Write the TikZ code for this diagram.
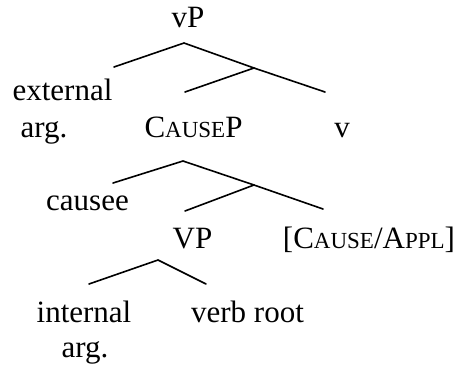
\documentclass[tikz,border=0pt]{standalone}
\usepackage{fontspec}
\setmainfont{Liberation Serif}
\newcommand\fakesc[1]{{\fontsize{23}{23}\selectfont #1}}
\begin{document}
\begin{tikzpicture}[x=1pt,y=-1pt,
  lbl/.style={anchor=base,inner sep=0pt,font=\fontsize{31}{37}\selectfont},
  branch/.style={line width=1.6pt,line cap=round}]
\useasboundingbox (0,0) rectangle (465,367);
% labels
\node[lbl] (vP) at (188,27) {vP};
\node[lbl] (ext1) at (62.5,100) {external};
\node[lbl] (ext2) at (44,137) {arg.};
\node[lbl] (causeP) at (193.5,137) {C\fakesc{AUSE}P};
\node[lbl] (v) at (342,137) {v};
\node[lbl] (causee) at (87.5,210) {causee};
\node[lbl] (VP) at (192.5,248) {VP};
\node[lbl] (head) at (369,248) {[C\fakesc{AUSE}/A\fakesc{PPL}]};
\node[lbl] (int1) at (84,322) {internal};
\node[lbl] (int2) at (85,357) {arg.};
\node[lbl] (root) at (247.5,322) {verb root};
% branch points
\coordinate (a1) at (184,43);
\coordinate (l1) at (114,67);
\coordinate (a2) at (254,68);
\coordinate (l2) at (185,92);
\coordinate (r2) at (325,92);
\coordinate (a3) at (183,161);
\coordinate (l3) at (113,183);
\coordinate (a4) at (254,185);
\coordinate (l4) at (185,211);
\coordinate (r4) at (323,209);
\coordinate (a5) at (158,260);
\coordinate (l5) at (89,284);
\coordinate (r5) at (206,284);
\draw[branch] (l1) -- (a1) -- (a2);
\draw[branch] (l2) -- (a2) -- (r2);
\draw[branch] (l3) -- (a3) -- (a4);
\draw[branch] (l4) -- (a4) -- (r4);
\draw[branch] (l5) -- (a5) -- (r5);
\end{tikzpicture}
\end{document}
